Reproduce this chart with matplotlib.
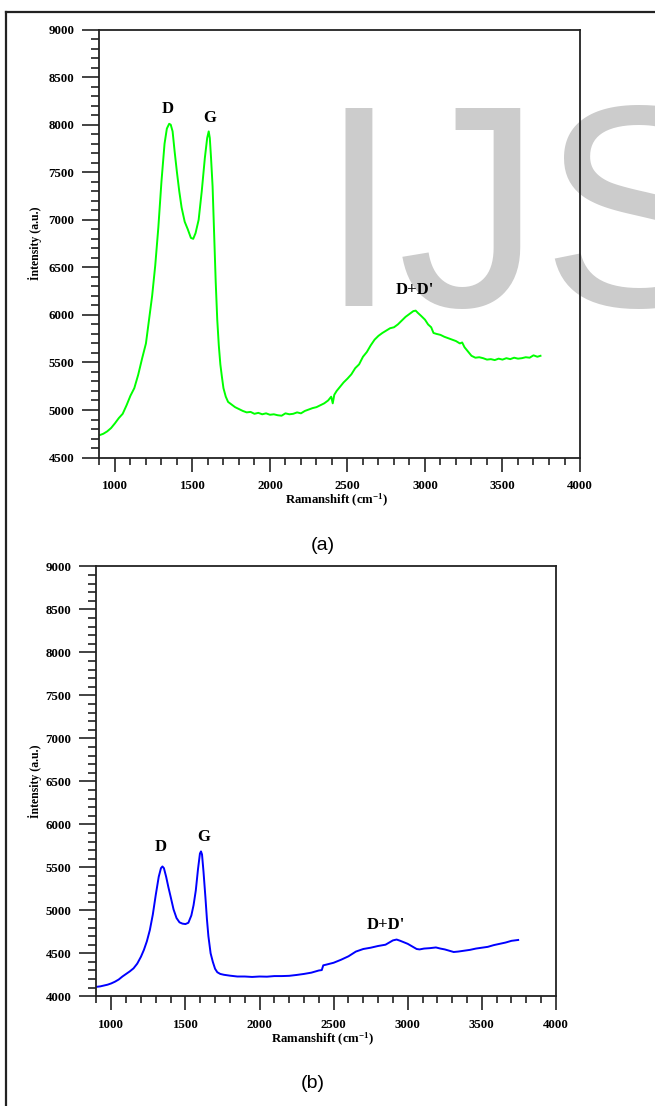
import matplotlib.pyplot as plt
from matplotlib.lines import Line2D
from matplotlib.ticker import MultipleLocator

plt.rcParams['font.family'] = ['Liberation Serif', 'DejaVu Serif']
plt.rcParams['font.weight'] = 'bold'
plt.rcParams['mathtext.fontset'] = 'custom'
plt.rcParams['mathtext.rm'] = 'Liberation Serif:bold'
plt.rcParams['mathtext.default'] = 'rm'

# Raman spectrum (a)
shift_a = [900, 925, 950, 975, 1000, 1025, 1050, 1075, 1100, 1125, 1150, 1175,
           1200, 1220, 1240, 1260, 1280, 1300, 1320, 1335, 1350, 1360, 1372, 1385,
           1400, 1415, 1430, 1450, 1470, 1490, 1505, 1520, 1540, 1560, 1580, 1595,
           1605, 1612, 1620, 1630, 1640, 1650, 1660, 1670, 1680, 1690, 1700, 1715,
           1730, 1750, 1775, 1800, 1825, 1850, 1875, 1900, 1925, 1950, 1975, 2000,
           2025, 2050, 2075, 2100, 2125, 2150, 2175, 2200, 2225, 2250, 2275, 2300,
           2325, 2350, 2375, 2395, 2405, 2415, 2430, 2450, 2475, 2500, 2525, 2550,
           2575, 2600, 2625, 2650, 2675, 2700, 2725, 2750, 2775, 2800, 2825, 2850,
           2875, 2900, 2925, 2940, 2955, 2975, 3000, 3020, 3040, 3055, 3075, 3100,
           3125, 3150, 3175, 3200, 3225, 3240, 3255, 3275, 3300, 3325, 3350, 3375,
           3400, 3425, 3450, 3475, 3500, 3525, 3550, 3575, 3600, 3625, 3650, 3675,
           3700, 3725, 3745]
intensity_a = [4735, 4750, 4775, 4810, 4860, 4915, 4960, 5050, 5150, 5230, 5370, 5540,
               5700, 5950, 6200, 6520, 6920, 7400, 7800, 7960, 8010, 8000, 7930, 7720,
               7500, 7300, 7130, 6980, 6900, 6810, 6800, 6860, 7000, 7300, 7650, 7860,
               7930, 7860, 7650, 7350, 6850, 6350, 5950, 5680, 5480, 5350, 5230, 5140,
               5085, 5060, 5030, 5010, 4990, 4975, 4980, 4960, 4970, 4955, 4965, 4950,
               4955, 4945, 4940, 4965, 4955, 4960, 4975, 4965, 4990, 5005, 5020, 5030,
               5050, 5070, 5100, 5140, 5070, 5160, 5200, 5240, 5290, 5330, 5375, 5440,
               5480, 5560, 5610, 5680, 5740, 5780, 5810, 5835, 5860, 5870, 5900, 5940,
               5980, 6010, 6040, 6045, 6020, 5990, 5950, 5900, 5870, 5810, 5800, 5790,
               5770, 5755, 5740, 5725, 5700, 5710, 5660, 5620, 5570, 5550, 5555, 5545,
               5530, 5535, 5525, 5540, 5530, 5545, 5535, 5550, 5540, 5545, 5555, 5550,
               5575, 5560, 5570]

# Raman spectrum (b)
shift_b = [900, 925, 950, 975, 1000, 1025, 1050, 1075, 1100, 1125, 1150, 1175,
           1200, 1220, 1240, 1260, 1280, 1300, 1320, 1335, 1345, 1355, 1370, 1385,
           1400, 1420, 1440, 1460, 1480, 1500, 1520, 1540, 1555, 1570, 1585, 1598,
           1605, 1612, 1622, 1635, 1645, 1655, 1670, 1685, 1700, 1715, 1735, 1760,
           1800, 1850, 1900, 1950, 2000, 2050, 2100, 2150, 2200, 2250, 2300, 2350,
           2400, 2420, 2430, 2450, 2500, 2550, 2600, 2650, 2700, 2750, 2800, 2850,
           2900, 2925, 2950, 3000, 3030, 3060, 3080, 3110, 3150, 3190, 3220, 3250,
           3280, 3310, 3340, 3380, 3420, 3460, 3500, 3540, 3580, 3620, 3660, 3700,
           3745]
intensity_b = [4110, 4115, 4125, 4135, 4150, 4170, 4195, 4230, 4260, 4290, 4325, 4380,
               4460, 4540, 4640, 4770, 4950, 5180, 5390, 5490, 5510, 5490, 5390, 5270,
               5160, 5010, 4910, 4860, 4845, 4840, 4855, 4940, 5060, 5230, 5480, 5660,
               5685, 5650, 5450, 5150, 4900, 4700, 4500, 4400, 4320, 4280, 4260, 4250,
               4240, 4230, 4230, 4225, 4230, 4228, 4235, 4235, 4238, 4248, 4260, 4275,
               4300, 4305, 4360, 4368, 4390, 4425, 4465, 4520, 4550, 4565, 4585, 4600,
               4650, 4660, 4645, 4610, 4580, 4550, 4545, 4555, 4560, 4568, 4555, 4545,
               4530, 4515, 4520, 4530, 4540, 4555, 4565, 4575, 4595, 4610, 4625, 4645,
               4655]

peak_names = ['D', 'G', "D+D'"]
peak_pos_a = [(1343, 8164), (1614, 8069), (2936, 6258)]
peak_pos_b = [(1335, 5736), (1625, 5853), (2853, 4829)]

fig = plt.figure(figsize=(6.55, 11.06), dpi=100)

# page frame and watermark
fig.add_artist(Line2D([0.0099, 0.0099], [0, 0.989], color='#222222', lw=1.6))
fig.add_artist(Line2D([0.0092, 1.0], [0.9887, 0.9887], color='#222222', lw=1.6))
fig.text(0.4855, 0.7233, 'IJS', family='Liberation Sans', fontweight='normal',
         fontsize=207, color='#cccccc', ha='left', va='baseline', zorder=-1)


def draw_panel(rect, x, y, color, ylim, peaks, tag, tag_xy):
    ax = fig.add_axes(rect)
    ax.set_facecolor('none')
    ax.plot(x, y, color=color, lw=1.4)
    ax.set_xlim(900, 4000)
    ax.set_ylim(*ylim)
    ax.xaxis.set_major_locator(MultipleLocator(500))
    ax.xaxis.set_minor_locator(MultipleLocator(100))
    ax.yaxis.set_major_locator(MultipleLocator(500))
    ax.yaxis.set_minor_locator(MultipleLocator(100))
    ax.tick_params(which='both', direction='out', top=False, right=False,
                   width=1.2, color='#222222', labelsize=9.3)
    ax.tick_params(axis='y', which='major', length=12, pad=6)
    ax.tick_params(axis='y', which='minor', length=6)
    ax.tick_params(axis='x', which='major', length=10, pad=6.5)
    ax.tick_params(axis='x', which='minor', length=5)
    for s in ax.spines.values():
        s.set_linewidth(1.3)
        s.set_color('#222222')
    ax.text(-0.134, 0.5, 'İntensity (a.u.)', rotation=90, ha='center', va='center',
            fontsize=8.5, transform=ax.transAxes)
    ax.text(0.493, -0.1, 'Ramanshift (cm$^{-1}$)', ha='center', va='center',
            fontsize=9.2, transform=ax.transAxes)
    for name, (px, py) in zip(peak_names, peaks):
        ax.text(px, py, name, ha='center', va='center', fontsize=12)
    fig.text(tag_xy[0], tag_xy[1], tag, family='Liberation Sans', fontweight='normal',
             fontsize=14, ha='center', va='center')
    return ax


draw_panel([0.1518, 0.5863, 0.7337, 0.3869], shift_a, intensity_a, '#00ff00',
           (4500, 9000), peak_pos_a, '(a)', (0.493, 1 - 546 / 1106))
draw_panel([0.1473, 0.0992, 0.7015, 0.3887], shift_b, intensity_b, '#0000ff',
           (4000, 9000), peak_pos_b, '(b)', (0.477, 1 - 1083 / 1106))

fig.savefig('out.png', dpi=100)
